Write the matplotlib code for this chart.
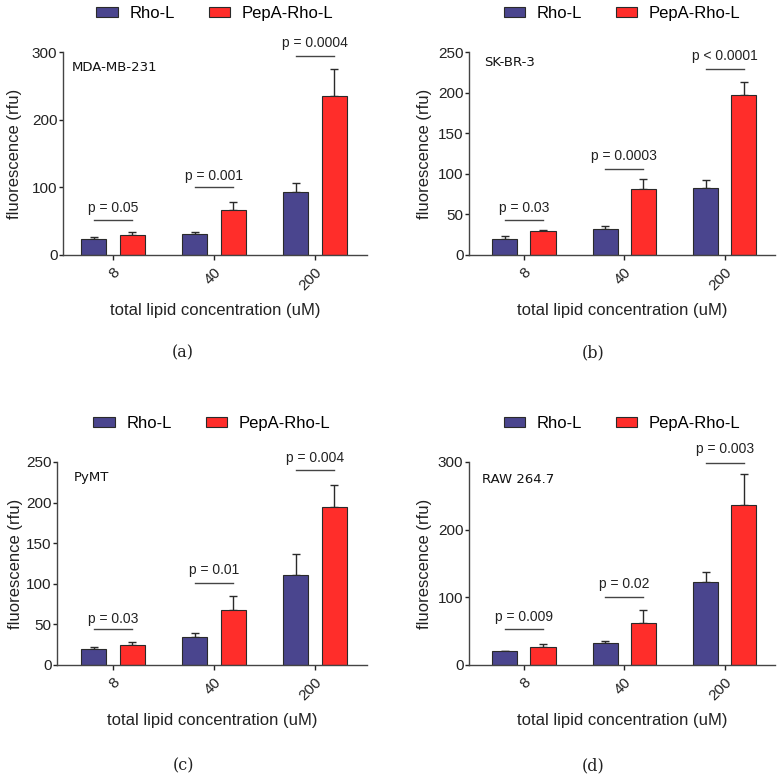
import matplotlib
matplotlib.use("Agg")
import matplotlib.pyplot as plt
from matplotlib.patches import Patch
import numpy as np

plt.rcParams['font.family'] = ['Liberation Sans', 'DejaVu Sans']

concentrations = ['8', '40', '200']
series_names = ['Rho-L', 'PepA-Rho-L']
cell_lines = ['MDA-MB-231', 'SK-BR-3', 'PyMT', 'RAW 264.7']
panel_letters = ['(a)', '(b)', '(c)', '(d)']

# mean fluorescence per concentration
rho_means = [[23, 31, 93], [20, 32, 82], [20, 35, 111], [21, 33, 122]]
pepa_means = [[29, 67, 235], [29.5, 81, 196.5], [25, 67.5, 195], [27, 62, 236]]
# upper error (SD)
rho_err = [[3, 3, 13], [4, 4, 10], [1.7, 4, 26], [0.3, 2, 15]]
pepa_err = [[4.5, 12, 40], [1.2, 12, 16], [3, 18, 27], [3.5, 19, 47]]

p_texts = [['p = 0.05', 'p = 0.001', 'p = 0.0004'],
           ['p = 0.03', 'p = 0.0003', 'p < 0.0001'],
           ['p = 0.03', 'p = 0.01', 'p = 0.004'],
           ['p = 0.009', 'p = 0.02', 'p = 0.003']]
p_line_y = [[52, 100, 294], [43, 106, 229], [44, 101, 240], [53, 101, 299]]
p_text_y = [[69, 117, 313], [58, 122, 245], [57, 117, 255], [71, 120, 319]]

y_max = [300, 250, 250, 300]
y_step = [100, 50, 50, 100]

blue = '#4a458e'
red = '#ff2d2a'
edge = '#2a2a2a'

fig = plt.figure(figsize=(7.82, 7.78), dpi=100)

W, H = 782, 778
# axes boxes in pixels: left, right, top, bottom
boxes = [(63, 367, 52, 255), (469, 775, 52, 255),
         (57, 367, 462, 665), (469, 775, 462, 665)]
xlims = [(-0.495, 2.515), (-0.547, 2.5), (-0.554, 2.515), (-0.547, 2.5)]
label_pos = [(0.03, 0.926), (0.05, 0.946), (0.055, 0.926), (0.042, 0.916)]
ylabel_x = [-0.158, -0.147, -0.135, -0.147]
letter_pos = [(183, 353), (593, 353), (183, 766), (593, 766)]

x = np.arange(len(concentrations))
bw = 0.25
off = 0.19

for i, ax_box in enumerate(boxes):
    l, r, t, b = ax_box
    ax = fig.add_axes([l / W, 1 - b / H, (r - l) / W, (b - t) / H])

    ax.bar(x - off, rho_means[i], bw, color=blue, edgecolor=edge, linewidth=0.8, zorder=2)
    ax.bar(x + off, pepa_means[i], bw, color=red, edgecolor=edge, linewidth=0.8, zorder=2)
    ax.errorbar(x - off, rho_means[i], yerr=[np.zeros(3), rho_err[i]], fmt='none',
                ecolor=edge, elinewidth=1, capsize=3.2, capthick=1, zorder=1)
    ax.errorbar(x + off, pepa_means[i], yerr=[np.zeros(3), pepa_err[i]], fmt='none',
                ecolor=edge, elinewidth=1, capsize=3.2, capthick=1, zorder=1)

    for j in range(3):
        ax.plot([x[j] - off, x[j] + off], [p_line_y[i][j]] * 2, color='#444444',
                lw=1, clip_on=False)
        ax.text(x[j], p_text_y[i][j], p_texts[i][j], ha='center', va='center',
                fontsize=10, color='#222222', clip_on=False)

    ax.set_xlim(*xlims[i])
    ax.set_ylim(0, y_max[i])
    ax.set_yticks(np.arange(0, y_max[i] + 1, y_step[i]))
    ax.set_xticks(x)
    ax.set_xticklabels(concentrations, rotation=45, ha='right', rotation_mode='anchor')
    ax.tick_params(axis='both', labelsize=11, colors='#222222', width=1)
    ax.tick_params(axis='x', length=3.6, pad=4)
    ax.tick_params(axis='y', length=3, pad=1)
    for s in ['top', 'right']:
        ax.spines[s].set_visible(False)
    for s in ['left', 'bottom']:
        ax.spines[s].set_color('#444444')
        ax.spines[s].set_linewidth(1)

    ax.set_ylabel('fluorescence (rfu)', fontsize=12, color='#222222', va='center')
    ax.yaxis.set_label_coords(ylabel_x[i], 0.5)
    ax.set_xlabel('total lipid concentration (uM)', fontsize=12, color='#222222', labelpad=6.5)

    ax.text(label_pos[i][0], label_pos[i][1], cell_lines[i], transform=ax.transAxes,
            fontsize=9.5, family='DejaVu Sans', va='center', ha='left', color='#111111')

    handles = [Patch(facecolor=blue, edgecolor=edge, linewidth=0.8),
               Patch(facecolor=red, edgecolor=edge, linewidth=0.8)]
    ax.legend(handles, series_names, loc='center', bbox_to_anchor=(0.5, 1.19),
              ncol=2, frameon=False, fontsize=12, handlelength=1.3, handleheight=0.6,
              handletextpad=0.7, columnspacing=2.0)

    fig.text(letter_pos[i][0] / W, 1 - letter_pos[i][1] / H, panel_letters[i],
             ha='center', va='center', fontsize=11.5, family='DejaVu Serif', color='#222222')

fig.savefig('out.png', dpi=100)
